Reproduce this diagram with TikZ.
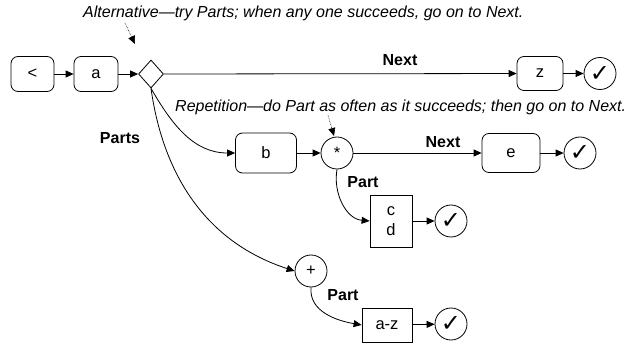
\documentclass[tikz,border=0pt]{standalone}
\usepackage{fontspec}
\setmainfont{Liberation Sans}
\newfontfamily\symfont{DejaVu Sans}
\usetikzlibrary{shapes.geometric,arrows.meta}
\begin{document}
\begin{tikzpicture}[x=1pt,y=-1pt,
  font=\fontsize{16.5}{19}\selectfont,
  rbox/.style={draw, rounded corners=7pt, line width=0.8pt, inner sep=0pt},
  sbox/.style={draw, line width=0.8pt, inner sep=0pt, align=center},
  circ/.style={draw, circle, line width=0.8pt, minimum size=32pt, inner sep=0pt},
  chk/.style={circ, font=\symfont\fontsize{24}{24}\selectfont},
  arr/.style={-{Triangle[length=8pt,width=7pt]}, line width=0.8pt},
  dotarr/.style={-{Triangle[length=8pt,width=7pt]}, line width=0.6pt, densely dotted},
  lbl/.style={font=\fontsize{16}{19}\selectfont\bfseries},
  note/.style={font=\fontsize{16}{19}\selectfont\itshape, anchor=west, inner sep=0pt},
]
\useasboundingbox (0,0) rectangle (628,344);

% row 1
\node[rbox, minimum width=43pt, minimum height=35pt] (lt) at (32.5,74) {<};
\node[rbox, minimum width=44pt, minimum height=35pt] (a) at (96,74) {a};
\node[draw, diamond, line width=0.8pt, inner sep=0pt, shape aspect=0.9, minimum width=25pt, minimum height=28pt] (alt) at (151,74) {};
\node[rbox, minimum width=46pt, minimum height=34pt] (z) at (540,73.5) {z};
\node[chk] (c1) at (600,73.5) {✓};

% row 2
\node[rbox, minimum width=61pt, minimum height=40pt] (b) at (266,153) {b};
\node[circ] (star) at (337,153) {*};
\node[rbox, minimum width=58pt, minimum height=39pt] (e) at (511,153) {e};
\node[chk] (c2) at (580,153) {✓};

% cd
\node[sbox, minimum width=42pt, minimum height=52pt] (cd) at (391,221) {c\\[1pt]d};
\node[chk] (c3) at (451,221) {✓};

% plus
\node[circ] (plus) at (311,271) {+};
\node[sbox, minimum width=50pt, minimum height=34pt] (az) at (387,325) {a-z};
\node[chk] (c4) at (451,324) {✓};

% labels
\node[lbl] (lnext1) at (400,60) {Next};
\node[lbl] (lparts) at (120,138) {Parts};
\node[lbl] (lnext2) at (443,142) {Next};
\node[lbl] (lpart1) at (363,182) {Part};
\node[lbl] (lpart2) at (343,295) {Part};

% notes
\node[note] (nalt) at (83,13) {Alternative—try Parts; when any one succeeds, go on to Next.};
\node[note] (nrep) at (175,107) {Repetition—do Part as often as it succeeds; then go on to Next.};
\coordinate (d1s) at (125,23);
\coordinate (d1e) at (135,44);
\coordinate (d2s) at (328,115);
\coordinate (d2e) at (334,136);
\draw[dotarr] (d1s) -- (d1e);
\draw[dotarr] (d2s) -- (d2e);

% connectors
\draw[arr] (lt) -- (a);
\draw[arr] (a) -- (alt);
\draw[arr] (alt.east) -- (z);
\draw[arr] (z) -- (c1);
\draw[arr] (b) -- (star);
\draw[arr] (star) -- (e);
\draw[arr] (e) -- (c2);
\draw[arr] (cd) -- (c3);
\draw[arr] (az) -- (c4);
\draw[arr] (alt.south) to[out=-60,in=180] (b.west);
\draw[arr] (alt.south) to[out=-82,in=162] (plus.west);
\draw[arr] (star.south) to[out=-100,in=175] (cd.west);
\draw[arr] (plus.south) to[out=-95,in=170] (az.west);
\end{tikzpicture}
\end{document}
